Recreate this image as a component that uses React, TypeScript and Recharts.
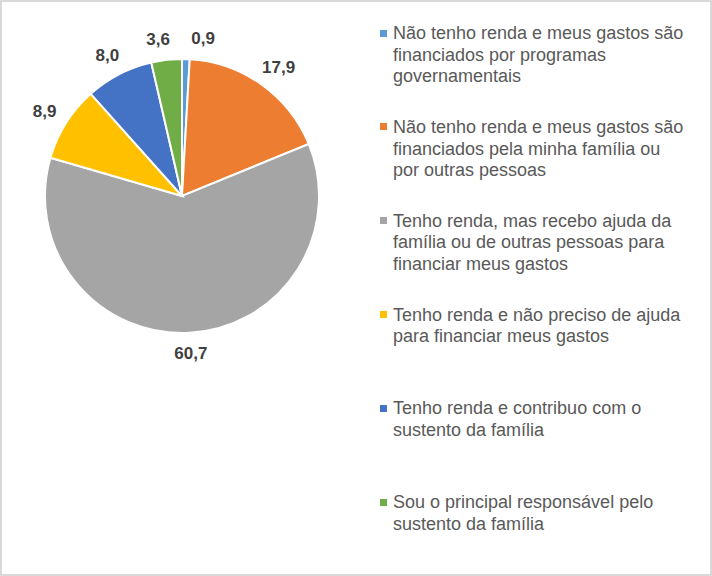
import React from 'react';
import { PieChart, Pie, Cell } from 'recharts';

const categories = [
  'Não tenho renda e meus gastos são financiados por programas governamentais',
  'Não tenho renda e meus gastos são financiados pela minha família ou por outras pessoas',
  'Tenho renda, mas recebo ajuda da família ou de outras pessoas para financiar meus gastos',
  'Tenho renda e não preciso de ajuda para financiar meus gastos',
  'Tenho renda e contribuo com o sustento da família',
  'Sou o principal responsável pelo sustento da família',
];

const legendLines = [
  ['Não tenho renda e meus gastos são', 'financiados por programas', 'governamentais'],
  ['Não tenho renda e meus gastos são', 'financiados pela minha família ou', 'por outras pessoas'],
  ['Tenho renda, mas recebo ajuda da', 'família ou de outras pessoas para', 'financiar meus gastos'],
  ['Tenho renda e não preciso de ajuda', 'para financiar meus gastos'],
  ['Tenho renda e contribuo com o', 'sustento da família'],
  ['Sou o principal responsável pelo', 'sustento da família'],
];

const values = [0.9, 17.9, 60.7, 8.9, 8.0, 3.6];
const valueLabels = ['0,9', '17,9', '60,7', '8,9', '8,0', '3,6'];
const colors = ['#5B9BD5', '#ED7D31', '#A5A5A5', '#FFC000', '#4472C4', '#70AD47'];

const data = categories.map((name, i) => ({ name, value: values[i] }));

const RAD = Math.PI / 180;
const OUTER_R = 137;
const LABEL_GAP = 13;
const CHAR_W = 8.3;
const HALF_H = 8;

// Base label placement relative to the pie centre, from each slice's mid angle
const labelOffsets = (() => {
  const total = values.reduce((a, b) => a + b, 0);
  let acc = 0;
  const pos = values.map((v, i) => {
    const mid = 90 - ((acc + v / 2) / total) * 360;
    acc += v;
    const cos = Math.cos(mid * RAD);
    const sin = Math.sin(mid * RAD);
    const w = valueLabels[i].length * CHAR_W;
    const r = OUTER_R + LABEL_GAP;
    return { x: r * cos + (cos * w) / 2, y: -r * sin - sin * HALF_H, w, v, dx: 0 };
  });
  // resolve horizontal overlaps between labels on the same row
  for (let i = 0; i < pos.length; i++) {
    for (let j = i + 1; j < pos.length; j++) {
      const a = pos[i];
      const b = pos[j];
      if (Math.abs(a.y - b.y) < HALF_H * 2) {
        const need = (a.w + b.w) / 2 + 20;
        const ax = a.x + a.dx;
        const bx = b.x + b.dx;
        const sep = Math.abs(ax - bx);
        if (sep < need) {
          const push = need - sep;
          const small = a.v < b.v ? a : b;
          const big = small === a ? b : a;
          const dir = (small.x + small.dx) >= (big.x + big.dx) ? 1 : -1;
          small.dx += dir * push * 0.75;
          big.dx -= dir * push * 0.25;
        }
      }
    }
  }
  return pos;
})();

const renderLabel = (props: any) => {
  const { cx, cy, index } = props;
  const text = valueLabels[index];
  const p = labelOffsets[index];
  return (
    <text
      x={cx + p.x + p.dx}
      y={cy + p.y}
      textAnchor="middle"
      dominantBaseline="central"
      fill="#404040"
      fontFamily="'Liberation Sans', Arial, sans-serif"
      fontWeight="bold"
      fontSize={17}
    >
      {text}
    </text>
  );
};

const LINE_H = 21.5;

export default function App() {
  return (
    <div style={{ position: 'absolute', left: 0, top: 0, width: 712, height: 576, background: '#fff' }}>
      <PieChart width={712} height={576} margin={{ top: 0, right: 0, bottom: 0, left: 0 }}>
        <Pie
          data={data}
          dataKey="value"
          nameKey="name"
          cx={182}
          cy={196}
          outerRadius={OUTER_R}
          startAngle={90}
          endAngle={-270}
          stroke="#ffffff"
          strokeWidth={2}
          label={renderLabel}
          labelLine={false}
          isAnimationActive={false}
        >
          {data.map((_, i) => (
            <Cell key={i} fill={colors[i]} />
          ))}
        </Pie>
      </PieChart>
      <div
        style={{
          position: 'absolute',
          left: 0,
          top: 0,
          width: 712,
          height: 576,
          pointerEvents: 'none',
          fontFamily: "'Liberation Sans', Arial, sans-serif",
          fontSize: 18,
          color: '#595959',
        }}
      >
        {legendLines.map((lines, i) => {
          const center = 34 + i * 93.8;
          return (
            <div key={i}>
              <div
                style={{
                  position: 'absolute',
                  left: 380,
                  top: center - 4.5,
                  width: 7,
                  height: 7,
                  background: colors[i],
                }}
              />
              <div
                style={{
                  position: 'absolute',
                  left: 393,
                  top: center - LINE_H / 2,
                  lineHeight: `${LINE_H}px`,
                  whiteSpace: 'nowrap',
                }}
              >
                {lines.map((l, j) => (
                  <div key={j}>{l}</div>
                ))}
              </div>
            </div>
          );
        })}
        <div
          style={{
            position: 'absolute',
            left: 0,
            top: 0,
            width: 712,
            height: 576,
            boxSizing: 'border-box',
            border: '2px solid #d9d9d9',
          }}
        />
      </div>
    </div>
  );
}
